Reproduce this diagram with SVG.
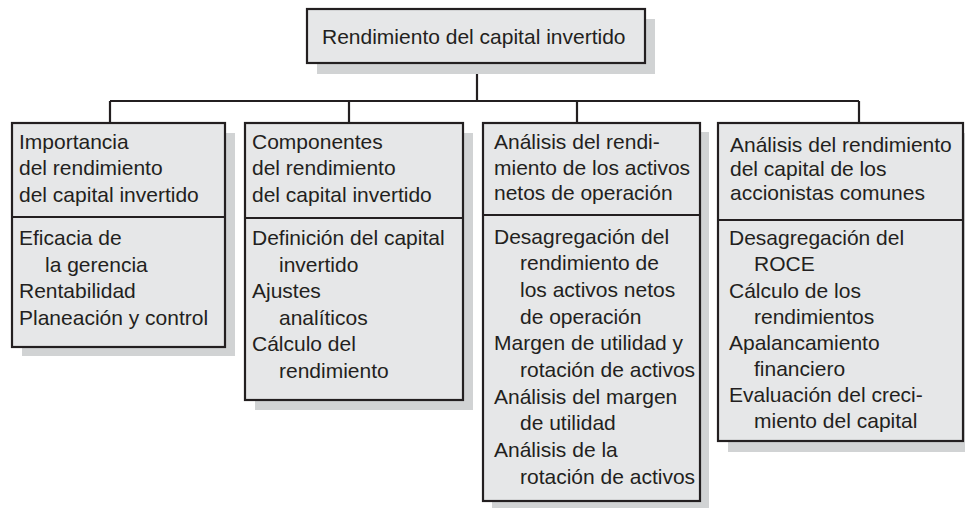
<svg xmlns="http://www.w3.org/2000/svg" width="965" height="508" viewBox="0 0 965 508">
<style>
.shadow{fill:#d1d3d4;stroke:none}
.box{fill:#e6e7e8;stroke:#231f20;stroke-width:2.2}
.div{stroke:#231f20;stroke-width:2.2;fill:none}
.conn{stroke:#231f20;stroke-width:2.2;fill:none}
.t{font-family:"Liberation Sans",Arial,sans-serif;font-size:21px;fill:#231f20}
</style>
<rect width="965" height="508" fill="#ffffff"/>
<g id="connectors">
<path class="conn" d="M477,63 V101 M110,101 H859 M110,101 V123 M349,101 V123 M577,101 V123 M859,101 V123"/>
</g>
<g id="root">
<rect class="shadow" x="317" y="19" width="338" height="55"/>
<rect class="box" x="307" y="9" width="338" height="54"/>
<text class="t" x="322" y="44">Rendimiento del capital invertido</text>
</g>
<g id="n1">
<rect class="shadow" x="22" y="133" width="213" height="223"/>
<rect class="box" x="12" y="123" width="213" height="224"/>
<line class="div" x1="12" y1="217" x2="225" y2="217"/>
<text class="t">
<tspan x="19" y="148.5">Importancia</tspan>
<tspan x="19" y="175">del rendimiento</tspan>
<tspan x="19" y="201.5">del capital invertido</tspan>
<tspan x="19" y="245">Eficacia de</tspan>
<tspan x="45" y="271.5">la gerencia</tspan>
<tspan x="19" y="298">Rentabilidad</tspan>
<tspan x="19" y="324.5">Planeación y control</tspan>
</text>
</g>
<g id="n2">
<rect class="shadow" x="255" y="133" width="218" height="277"/>
<rect class="box" x="245" y="123" width="218" height="277"/>
<line class="div" x1="245" y1="218" x2="463" y2="218"/>
<text class="t">
<tspan x="252" y="148.5">Componentes</tspan>
<tspan x="252" y="175">del rendimiento</tspan>
<tspan x="252" y="201.5">del capital invertido</tspan>
<tspan x="252" y="245">Definición del capital</tspan>
<tspan x="279" y="271.5">invertido</tspan>
<tspan x="252" y="298">Ajustes</tspan>
<tspan x="279" y="324.5">analíticos</tspan>
<tspan x="252" y="351">Cálculo del</tspan>
<tspan x="279" y="377.5">rendimiento</tspan>
</text>
</g>
<g id="n3">
<rect class="shadow" x="492" y="132" width="217" height="380"/>
<rect class="box" x="483" y="123" width="217" height="378"/>
<line class="div" x1="483" y1="215" x2="700" y2="215"/>
<text class="t">
<tspan x="494" y="149">Análisis del rendi-</tspan>
<tspan x="494" y="174.5">miento de los activos</tspan>
<tspan x="494" y="200">netos de operación</tspan>
<tspan x="494" y="243.5">Desagregación del</tspan>
<tspan x="520" y="270.2">rendimiento de</tspan>
<tspan x="520" y="296.9">los activos netos</tspan>
<tspan x="520" y="323.6">de operación</tspan>
<tspan x="494" y="350.3">Margen de utilidad y</tspan>
<tspan x="520" y="377">rotación de activos</tspan>
<tspan x="494" y="403.7">Análisis del margen</tspan>
<tspan x="520" y="430.4">de utilidad</tspan>
<tspan x="494" y="457.1">Análisis de la</tspan>
<tspan x="520" y="483.8">rotación de activos</tspan>
</text>
</g>
<g id="n4">
<rect class="shadow" x="728" y="133" width="245" height="319"/>
<rect class="box" x="718" y="123" width="245" height="318"/>
<line class="div" x1="718" y1="220" x2="963" y2="220"/>
<text class="t">
<tspan x="730" y="152">Análisis del rendimiento</tspan>
<tspan x="730" y="176">del capital de los</tspan>
<tspan x="730" y="200">accionistas comunes</tspan>
<tspan x="729" y="245">Desagregación del</tspan>
<tspan x="754" y="271">ROCE</tspan>
<tspan x="729" y="297.5">Cálculo de los</tspan>
<tspan x="754" y="323.5">rendimientos</tspan>
<tspan x="729" y="349.5">Apalancamiento</tspan>
<tspan x="754" y="375.5">financiero</tspan>
<tspan x="729" y="402">Evaluación del creci-</tspan>
<tspan x="754" y="428">miento del capital</tspan>
</text>
</g>
</svg>
